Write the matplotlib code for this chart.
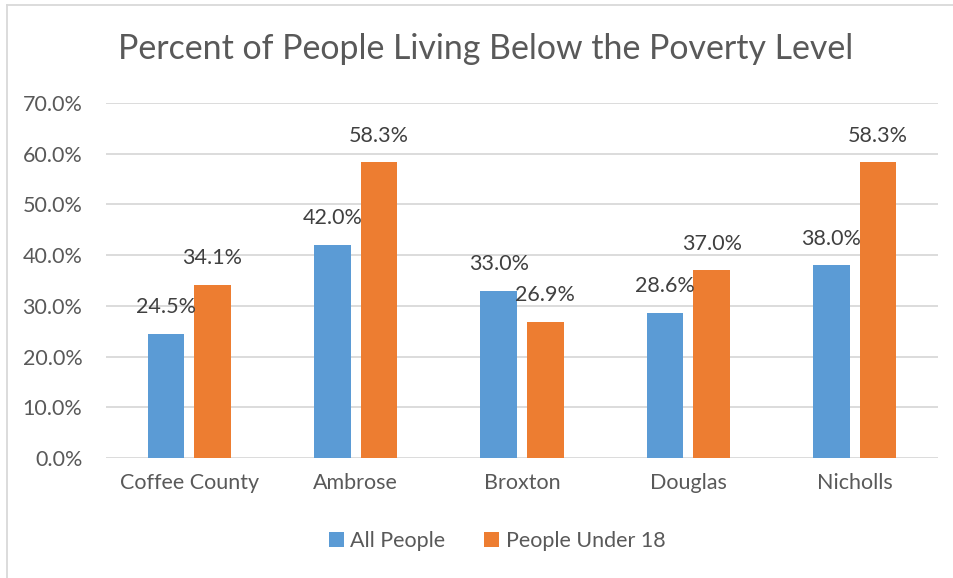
import matplotlib.pyplot as plt
from matplotlib.lines import Line2D
import numpy as np

# Dati
categorie = ["Coffee County", "Ambrose", "Broxton", "Douglas", "Nicholls"]
tutte_persone = [24.5, 42.0, 33.0, 28.6, 38.0]
sotto_18 = [34.1, 58.3, 26.9, 37.0, 58.3]
serie = ["All People", "People Under 18"]
tick_y = [0, 10, 20, 30, 40, 50, 60, 70]

plt.rcParams["font.family"] = ["Lato", "DejaVu Sans"]
colore_testo = "#595959"

fig = plt.figure(figsize=(9.54, 5.78), dpi=100)
ax = fig.add_axes([106 / 954, 1 - 458 / 578, 832 / 954, 355 / 578])

x = np.arange(len(categorie))
larghezza = 0.22
offset = 0.14
b1 = ax.bar(x - offset, tutte_persone, larghezza, color="#5B9BD5", label=serie[0], zorder=3)
b2 = ax.bar(x + offset, sotto_18, larghezza, color="#ED7D31", label=serie[1], zorder=3)

for barre in (b1, b2):
    ax.bar_label(barre, labels=[f"{v:.1f}%" for v in barre.datavalues],
                 padding=12, fontsize=15.5, color="#404040")

ax.set_xlim(-0.5, len(categorie) - 0.5)
ax.set_ylim(0, 70)
ax.set_yticks(tick_y)
ax.set_yticklabels([f"{t:.1f}%" for t in tick_y])
ax.set_xticks(x)
ax.set_xticklabels(categorie)
ax.tick_params(axis="both", length=0, labelsize=15.5, labelcolor=colore_testo)
ax.tick_params(axis="y", pad=17)
ax.tick_params(axis="x", pad=11)
ax.grid(axis="y", color="#D9D9D9", linewidth=1.3, zorder=0)
for lato in ax.spines.values():
    lato.set_visible(False)

fig.text(486 / 954, 1 - 49 / 578, "Percent of People Living Below the Poverty Level",
         ha="center", va="center", fontsize=24.4, color=colore_testo)

fig.legend(loc="center", bbox_to_anchor=(0.521, 1 - 541 / 578), ncol=2, frameon=False,
           fontsize=15.5, handlelength=0.7, handleheight=0.7, handletextpad=0.3,
           columnspacing=1.8, labelcolor=colore_testo)

# Bordo del grafico
fig.add_artist(Line2D([7 / 954, 7 / 954], [0, 1 - 5 / 578], color="#D9D9D9", linewidth=1.3))
fig.add_artist(Line2D([7 / 954, 1], [1 - 5 / 578, 1 - 5 / 578], color="#D9D9D9", linewidth=1.3))

plt.savefig("out.png", dpi=100)
